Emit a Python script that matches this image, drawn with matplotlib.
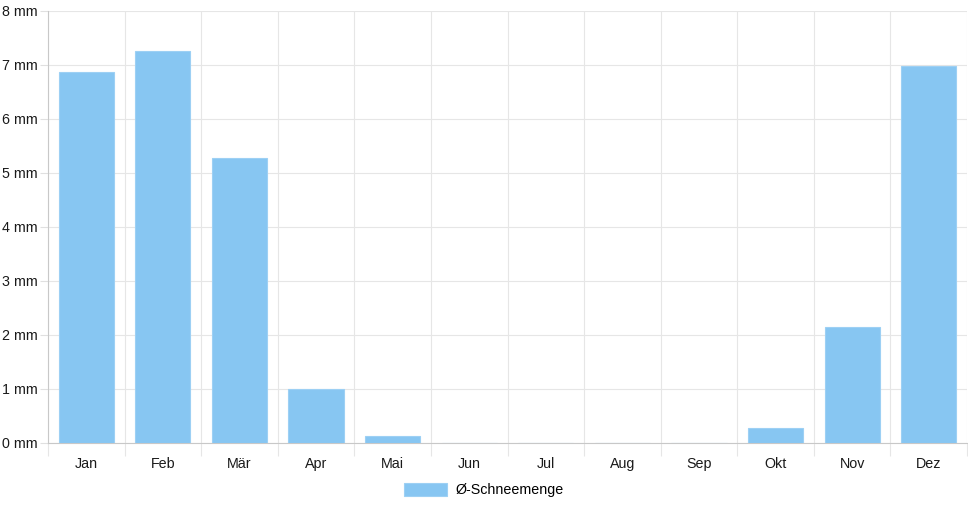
import matplotlib.pyplot as plt
import numpy as np
from matplotlib.ticker import FixedLocator

# monthly snow amounts
months = ["Jan", "Feb", "Mär", "Apr", "Mai", "Jun", "Jul", "Aug", "Sep", "Okt", "Nov", "Dez"]
snow = [6.87, 7.26, 5.28, 1.0, 0.12, 0, 0, 0, 0, 0.28, 2.15, 6.99]
yticks = [0, 1, 2, 3, 4, 5, 6, 7, 8]

plt.rcParams['font.family'] = ['Liberation Sans', 'DejaVu Sans']

fig = plt.figure(figsize=(9.68, 5.08), dpi=100)
ax = fig.add_axes([48/968, 65.3/508, 919/968, 431.7/508])

x = np.arange(len(months))
ax.bar(x, snow, width=0.72, color="#87c6f2", edgecolor="#9dd0f4", linewidth=0.8,
       label="Ø-Schneemenge", zorder=3)

ax.set_xlim(-0.5, len(months) - 0.5)
ax.set_ylim(0, 8)

ax.set_yticks(yticks)
ax.set_yticklabels([f"{v} mm" for v in yticks])
ax.set_xticks(x)
ax.set_xticklabels(months)
ax.xaxis.set_minor_locator(FixedLocator(np.arange(-0.5, len(months), 1)))

ax.grid(axis="y", color="#e6e6e6", linewidth=0.8, zorder=0)
ax.grid(axis="x", which="minor", color="#e6e6e6", linewidth=0.8, zorder=0)
ax.tick_params(axis="y", length=6, width=0.8, color="#e0e0e0", pad=1.5, labelsize=10.3, labelcolor="#1a1a1a")
ax.tick_params(axis="x", which="major", length=0, pad=10, labelsize=10.3, labelcolor="#1a1a1a")
ax.tick_params(axis="x", which="minor", length=9, width=0.8, color="#e6e6e6")

for s in ["top", "right"]:
    ax.spines[s].set_visible(False)
ax.spines["left"].set_color("#c8c8c8")
ax.spines["bottom"].set_color("#c8c8c8")
ax.spines["left"].set_linewidth(0.8)
ax.spines["bottom"].set_linewidth(0.8)

fig.legend(loc="center", bbox_to_anchor=(484/968, 1 - 490/508), frameon=False,
           fontsize=10.3, handlelength=3.0, handleheight=1.0, handletextpad=0.6)

fig.savefig("out.png", dpi=100)
